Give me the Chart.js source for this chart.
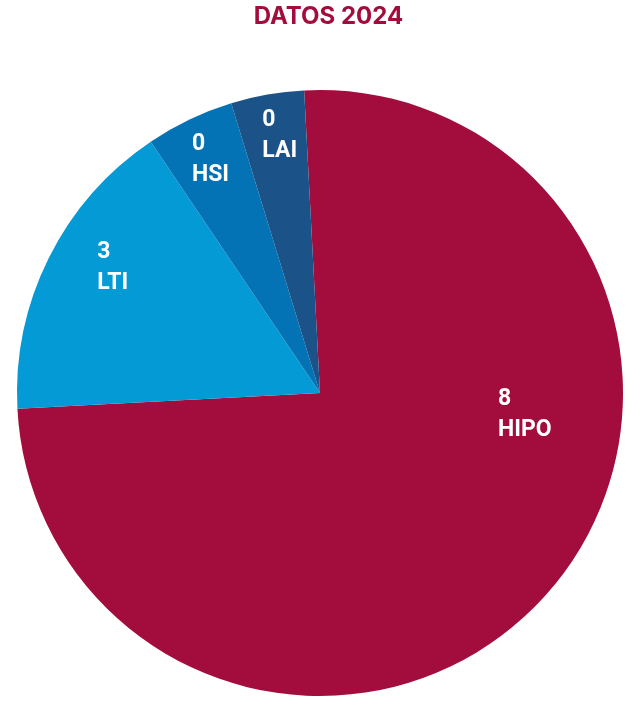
<!DOCTYPE html>
<html>
<head>
<meta charset="utf-8">
<script src="https://cdn.jsdelivr.net/npm/chart.js@4"></script>
<style>
  html, body { margin: 0; padding: 0; background: #ffffff; }
  #wrap { width: 640px; height: 713px; }
</style>
</head>
<body>
<div id="wrap"><canvas id="chart" width="640" height="713"></canvas></div>
<script>
const TITLE = 'DATOS 2024';
const CATEGORIES = ['HIPO', 'LTI', 'HSI', 'LAI'];
const COUNTS = [8, 3, 0, 0];               // numbers printed on the slices
const SHARES = [75, 16.4, 4.7, 3.9];       // slice sizes as drawn (% of the circle)
const COLORS = ['#A30D3E', '#049AD6', '#0473B6', '#1B5388'];

// where each label sits: fraction along the slice's arc, fraction of the radius
const LABEL_ALONG = [0.367, 0.58, 0.52, 0.58];
const LABEL_RADIUS = [0.68, 0.80, 0.85, 0.86];

// title sits a little right of the pie's centre in the original
const titlePlugin = {
    id: 'offsetTitle',
    afterDraw(chart) {
        const ctx = chart.ctx;
        const area = chart.chartArea;
        ctx.save();
        ctx.font = 'bold 24px Inter';
        ctx.fillStyle = '#A30D3E';
        ctx.textAlign = 'center';
        ctx.textBaseline = 'alphabetic';
        ctx.fillText(TITLE, (area.left + area.right) / 2 + 8.5, 24);
        ctx.restore();
    }
};

const sliceLabels = {
    id: 'sliceLabels',
    afterDatasetsDraw(chart) {
        const ctx = chart.ctx;
        const arcs = chart.getDatasetMeta(0).data;
        ctx.save();
        ctx.font = 'bold 23px Roboto';
        ctx.fillStyle = '#ffffff';
        ctx.textAlign = 'left';
        ctx.textBaseline = 'middle';
        arcs.forEach((arc, i) => {
            const p = arc.getProps(['x', 'y', 'startAngle', 'endAngle', 'outerRadius'], true);
            const a = p.startAngle + (p.endAngle - p.startAngle) * LABEL_ALONG[i];
            const r = p.outerRadius * LABEL_RADIUS[i];
            const cx = p.x + Math.cos(a) * r;
            const cy = p.y + Math.sin(a) * r;
            const lines = [String(COUNTS[i]), CATEGORIES[i]];
            const w = Math.max(...lines.map(l => ctx.measureText(l).width));
            ctx.fillText(lines[0], cx - w / 2, cy - 15.5);
            ctx.fillText(lines[1], cx - w / 2, cy + 15.5);
        });
        ctx.restore();
    }
};

new Chart(document.getElementById('chart').getContext('2d'), {
    type: 'pie',
    data: {
        labels: CATEGORIES,
        datasets: [{
            data: SHARES,
            backgroundColor: COLORS,
            borderWidth: 0
        }]
    },
    options: {
        responsive: false,
        animation: false,
        rotation: -3,
        layout: {
            padding: { left: 17, right: 17, top: 90, bottom: 17 }
        },
        plugins: {
            legend: { display: false },
            tooltip: { enabled: false },
            title: { display: false }
        }
    },
    plugins: [sliceLabels, titlePlugin]
});
</script>
</body>
</html>
